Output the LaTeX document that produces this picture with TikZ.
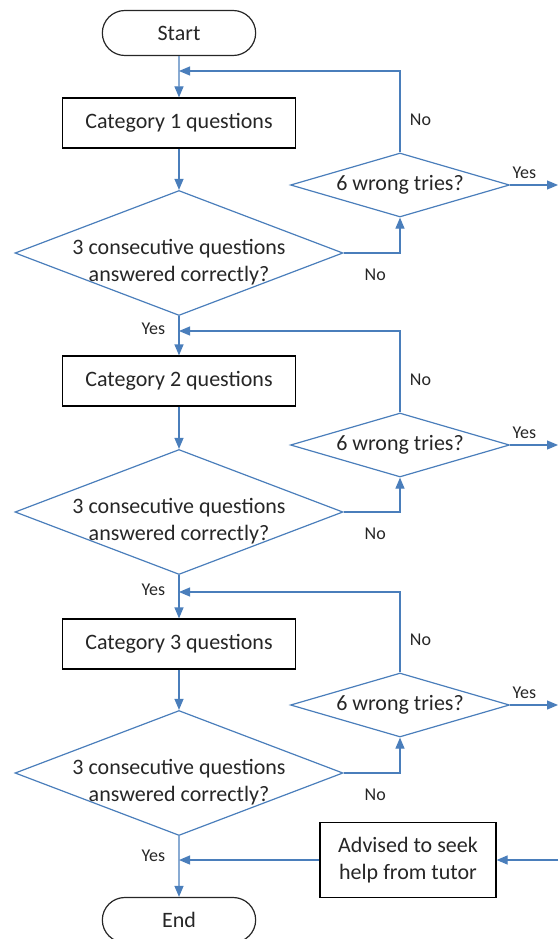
\documentclass[tikz,border=0pt]{standalone}
\usepackage{fontspec}
\setmainfont{Carlito}
\usetikzlibrary{shapes.geometric, shapes.misc, arrows.meta}
\definecolor{flowblue}{HTML}{4A7EBB}
\definecolor{inkgray}{HTML}{262626}
\tikzstyle{catbox}=[rectangle, draw=black, line width=1.2pt, minimum width=233pt, minimum height=50pt, text=inkgray, font=\fontsize{22}{27}\selectfont]
\tikzstyle{bigask}=[diamond, draw=flowblue, line width=1.2pt, inner sep=0pt, minimum width=328pt, minimum height=125pt]
\tikzstyle{asktext}=[align=center, text=inkgray, font=\fontsize{22}{27}\selectfont, yshift=-9pt]
\tikzstyle{tryask}=[diamond, draw=flowblue, line width=1.2pt, aspect=3.4, inner sep=0pt, minimum width=219pt, minimum height=64pt, text=inkgray, font=\fontsize{22}{27}\selectfont]
\tikzstyle{terminal}=[rounded rectangle, draw=inkgray, line width=1.2pt, minimum width=160pt, minimum height=45pt, text=inkgray, font=\fontsize{22}{27}\selectfont]
\tikzstyle{flow}=[draw=flowblue, line width=1.2pt, -{Triangle[length=11pt,width=9pt]}]
\tikzstyle{answer}=[text=inkgray, font=\fontsize{18}{22}\selectfont]
\newcommand{\catbox}{\node[catbox]}

\begin{document}
\begin{tikzpicture}[x=1pt, y=-1pt]
\useasboundingbox (0,0) rectangle (558,939);
\node[terminal] (start) at (179,33) {Start};
\foreach \i/\c/\d/\w/\f in {1/123/253/185/71, 2/381/512/445/331, 3/644/773/705/592}{
	\catbox (cat\i) at (179,\c) {Category \i{} questions};
	\node[bigask, label={[asktext]center:3 consecutive questions\\answered correctly?}] (q\i) at (179,\d) {};
	\node[tryask] (w\i) at (400,\w) {6 wrong tries?};
	\coordinate (f\i) at (179,\f);
	\coordinate (e\i) at (558,\w);
	\draw[flow] (cat\i) -- (q\i);
	\draw[flow] (q\i.east) -| node[answer, pos=0.28, below=12pt]{No} (w\i.south);
	\draw[flow] (w\i.north) |- node[answer, pos=0.2, right=6pt]{No} (f\i);
	\draw[flow] (w\i.east) -- node[answer, pos=0.3, above=2pt]{Yes} (e\i);
	}
\node[terminal] (end) at (179,920) {End};
\draw[flow] (start) -- (cat1);
\draw[flow] (q1) -- node[answer, pos=0.33, left=10pt]{Yes} (cat2);
\draw[flow] (q2) -- node[answer, pos=0.33, left=10pt]{Yes} (cat3);
\draw[flow] (q3) -- node[answer, pos=0.33, left=10pt]{Yes} (end);
\catbox[minimum width=176pt, minimum height=75pt, align=center] (adv) at (408,860) {Advised to seek\\help from tutor};
\coordinate (tutorin) at (558,860);
\coordinate (tutorout) at (179,860);
\draw[flow] (tutorin) -- (adv);
\draw[flow] (adv) -- (tutorout);
\end{tikzpicture}
\end{document}
